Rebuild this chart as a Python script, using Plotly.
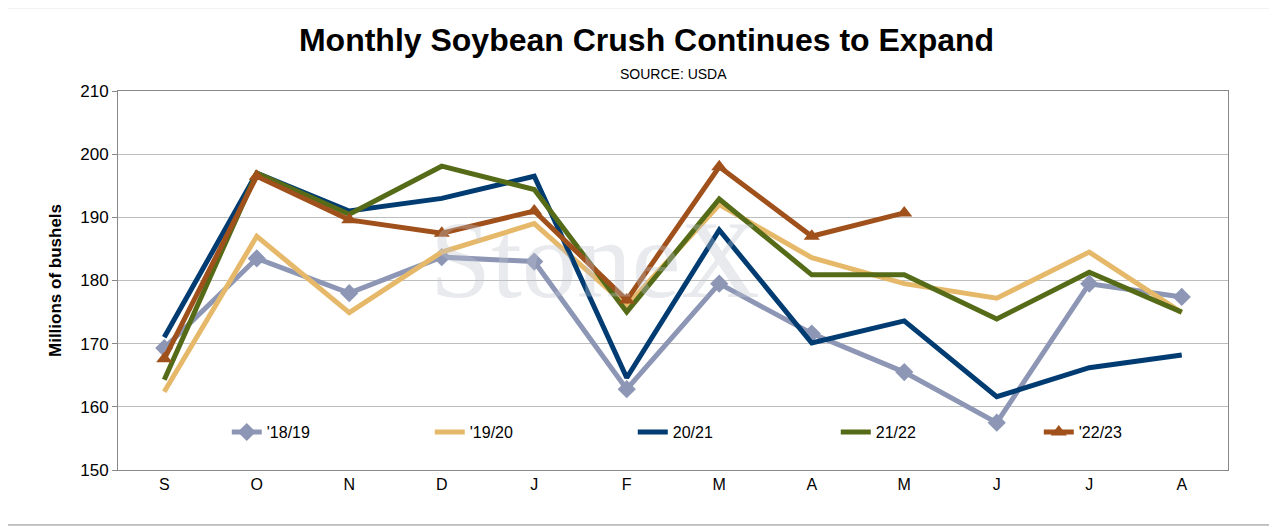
import plotly.graph_objects as go

months = ["S", "O", "N", "D", "J", "F", "M", "A", "M ", "J ", "J  ", "A "]
month_labels = ["S", "O", "N", "D", "J", "F", "M", "A", "M", "J", "J", "A"]

crush_1819 = [169.3, 183.5, 178.0, 183.7, 183.0, 162.8, 179.5, 171.6, 165.5, 157.5, 179.5, 177.4]
crush_1920 = [162.4, 187.0, 174.9, 184.5, 189.0, 176.0, 192.0, 183.6, 179.5, 177.2, 184.5, 174.9]
crush_2021 = [171.0, 197.0, 191.0, 193.0, 196.5, 164.6, 188.0, 170.1, 173.6, 161.6, 166.2, 168.2]
crush_2122 = [164.3, 197.0, 190.5, 198.1, 194.4, 175.0, 192.9, 180.9, 180.9, 173.9, 181.3, 175.0]
crush_2223 = [167.6, 196.5, 189.6, 187.5, 191.0, 176.9, 198.0, 187.0, 190.7]

series = [
    ("'18/19", crush_1819, "#8D97B5", "diamond"),
    ("'19/20", crush_1920, "#E6B96A", None),
    ("20/21", crush_2021, "#003C71", None),
    ("21/22", crush_2122, "#556B18", None),
    ("'22/23", crush_2223, "#A0501A", "triangle-up"),
]

fig = go.Figure()
for name, vals, color, sym in series:
    if sym:
        fig.add_trace(go.Scatter(x=months[:len(vals)], y=vals, name=name, mode="lines+markers",
                                 line=dict(color=color, width=5),
                                 marker=dict(symbol=sym, size=14, color=color)))
    else:
        fig.add_trace(go.Scatter(x=months[:len(vals)], y=vals, name=name, mode="lines",
                                 line=dict(color=color, width=5)))

# faint watermark
fig.add_annotation(text="StoneX", x=0.43, y=0.72, xref="paper", yref="paper", showarrow=False,
                   font=dict(family="Times New Roman, Liberation Serif", size=110, color="rgba(190,195,205,0.35)"))

fig.update_layout(
    width=1277, height=527,
    paper_bgcolor="white", plot_bgcolor="white",
    margin=dict(l=110, r=57, t=83, b=65, autoexpand=False),
    font=dict(family="Arial, Liberation Sans", size=16, color="black"),
    title=dict(text="<b>Monthly Soybean Crush Continues to Expand</b>", x=0.5, y=0.94,
               xanchor="center", yanchor="middle", font=dict(size=32)),
    showlegend=True,
    legend=dict(orientation="h", x=0.098, y=0.1, xanchor="left", yanchor="middle",
                entrywidth=158, bgcolor="rgba(0,0,0,0)", font=dict(size=16)),
    shapes=[dict(type="rect", xref="paper", yref="paper", x0=-0.1, x1=1.04, y0=-0.145, y1=1.22,
                 line=dict(color="#888", width=1))],
)
fig.add_annotation(text="SOURCE: USDA", x=0.5, y=1.07, xref="paper", yref="paper", showarrow=False,
                   font=dict(size=14))
fig.update_xaxes(tickmode="array", tickvals=months, ticktext=month_labels, range=[-0.5, 11.5],
                 showline=True, linecolor="#888", mirror=True, ticks="", showgrid=False,
                 tickfont=dict(size=16))
fig.update_yaxes(range=[150, 210], dtick=10, showline=True, linecolor="#888", mirror=True,
                 gridcolor="#BDBDBD", ticks="outside", ticklen=5, tickcolor="#888",
                 title=dict(text="<b>Millions of bushels</b>", font=dict(size=17), standoff=14),
                 tickfont=dict(size=17))

fig.write_html("out.html")
